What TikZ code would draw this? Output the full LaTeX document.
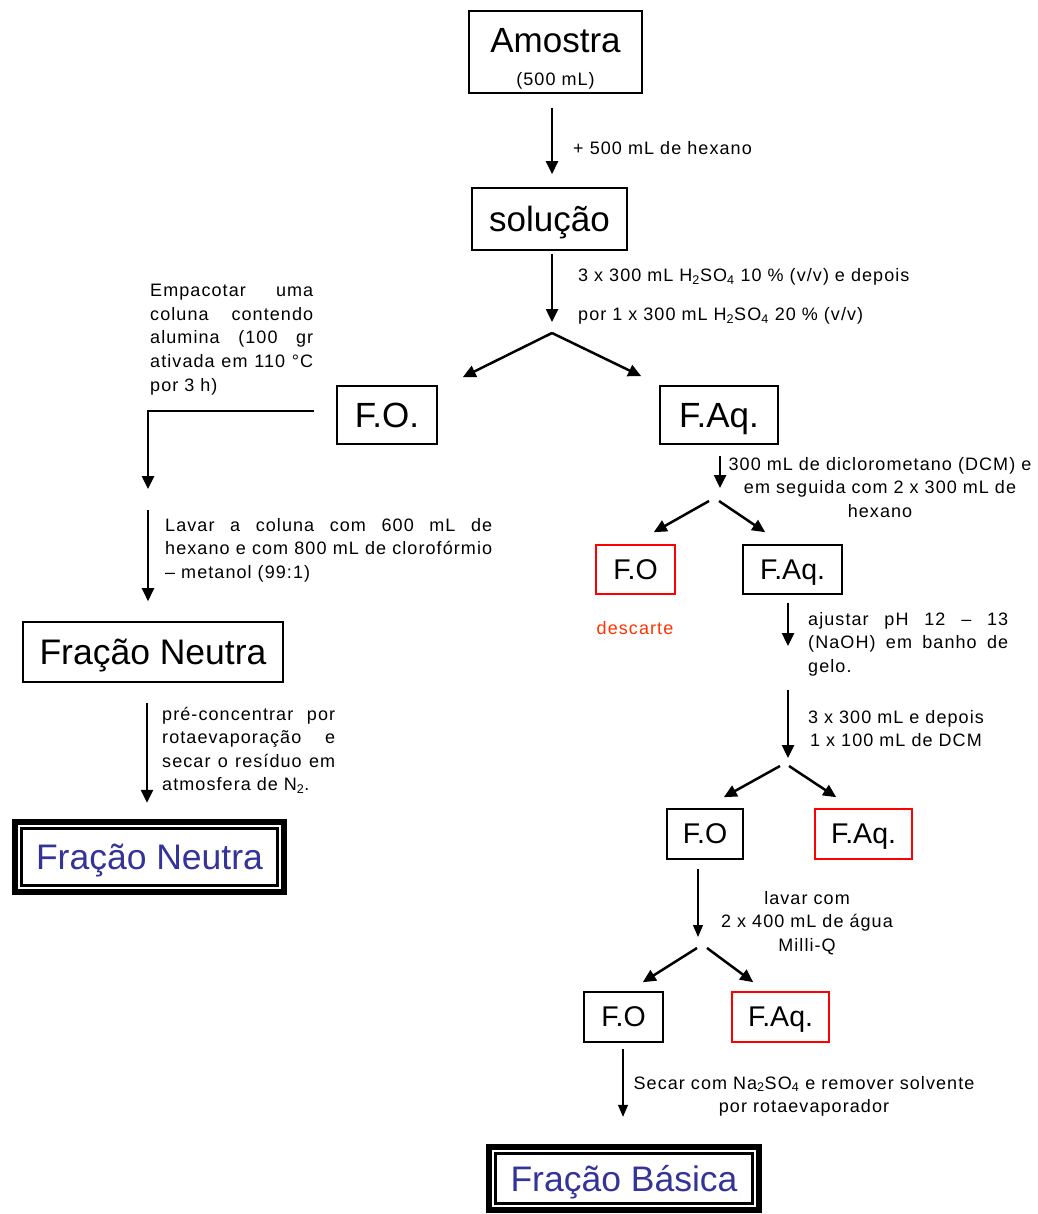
\documentclass[tikz,border=0pt]{standalone}
\usepackage{fontspec}
\setmainfont{Liberation Sans}
\newfontfamily\notefont{Liberation Sans}[LetterSpace=6]
\usetikzlibrary{arrows.meta}
\hyphenpenalty=10000
\exhyphenpenalty=10000
\newcommand{\jline}[2]{{\spaceskip=0.28em plus 1fil\makebox[#1][s]{#2}}}
\definecolor{fracblue}{RGB}{51,51,153}
\definecolor{discard}{RGB}{255,51,0}
\tikzset{
  box/.style={draw, line width=1.6pt, inner sep=0pt, text depth=0pt, font=\fontsize{35}{40}\selectfont},
  smallbox/.style={box, font=\fontsize{28.5}{32}\selectfont},
  redbox/.style={smallbox, draw=red},
  bigbox/.style={box, font=\fontsize{35.5}{40}\selectfont},
  note/.style={inner sep=0pt, font=\notefont\fontsize{18}{23.5}\selectfont},
  arr/.style={-{Triangle[length=13pt,width=12pt]}, line width=2.5pt},
  thinarr/.style={-{Triangle[length=12pt,width=10pt]}, line width=1.2pt},
  result/.style={inner sep=0pt, text depth=0pt, text=fracblue, font=\fontsize{35.5}{40}\selectfont}
}
\begin{document}
\begin{tikzpicture}[x=1pt,y=-1pt]
  \useasboundingbox (0,0) rectangle (1037,1214);
  % boxes
  \node[box, minimum width=173pt, minimum height=82pt, align=center] (amostra) at (555.5,52) {\raisebox{0pt}[35pt][0pt]{Amostra}\\[-7pt]{\notefont\fontsize{18}{20}\selectfont (500 mL)}};
  \node[box, minimum width=155pt, minimum height=62pt] (solucao) at (549.5,219) {solução};
  \node[box, minimum width=100pt, minimum height=58pt] (fo1) at (387,415) {F.O.};
  \node[box, minimum width=118pt, minimum height=58pt] (faq1) at (719,415) {F.Aq.};
  \node[redbox, minimum width=79pt, minimum height=49pt] (fo2) at (635.5,569.5) {F.O};
  \node[smallbox, minimum width=99pt, minimum height=49pt] (faq2) at (792.5,569.5) {F.Aq.};
  \node[bigbox, minimum width=260pt, minimum height=60pt] (neutra) at (153,652) {Fração Neutra};
  \node[result, minimum width=275pt, minimum height=76pt] (neutrafinal) at (149.5,857) {Fração Neutra};
  \node[smallbox, minimum width=76pt, minimum height=50pt] (fo3) at (705,834) {F.O};
  \node[redbox, minimum width=97pt, minimum height=50pt] (faq3) at (863.5,834) {F.Aq.};
  \node[smallbox, minimum width=79pt, minimum height=50pt] (fo4) at (623.5,1017) {F.O};
  \node[redbox, minimum width=97pt, minimum height=50pt] (faq4) at (780.5,1017) {F.Aq.};
  \node[result, minimum width=276pt, minimum height=69pt] (basica) at (624,1178.5) {Fração Básica};
  \foreach \n in {neutrafinal,basica}{
    \draw[line width=6pt] ([shift={(3pt,-3pt)}]\n.north west) rectangle ([shift={(-3pt,3pt)}]\n.south east);
    \draw[line width=3pt] ([shift={(9.5pt,-9.5pt)}]\n.north west) rectangle ([shift={(-9.5pt,9.5pt)}]\n.south east);
  }
  % split points
  \coordinate (split1) at (552,333);
  \coordinate (split2) at (714,501);
  \coordinate (split3) at (784.5,766);
  \coordinate (split4) at (702,948);
  \coordinate (colin) at (148,489);
  \coordinate (colout) at (148,510);
  \coordinate (phin) at (788,646);
  \coordinate (phout) at (788,690);
  % arrows
  \draw[arr] ([xshift=-3.5pt,yshift=-14pt]amostra.south) -- ([xshift=2.5pt,yshift=13pt]solucao.north);
  \draw[arr] ([xshift=2.5pt,yshift=-3pt]solucao.south) -- ([yshift=11pt]split1);
  \draw[arr] (split1) -- ([shift={(25pt,8pt)}]fo1.north east);
  \draw[arr] (split1) -- ([shift={(-18pt,9pt)}]faq1.north west);
  \draw[arr] ([xshift=-22pt,yshift=4pt]fo1.west) -| (colin);
  \draw[arr] (colout) -- ([xshift=-5pt,yshift=20pt]neutra.north);
  \draw[arr] ([xshift=-6pt,yshift=-20pt]neutra.south) -- ([xshift=-2.5pt,yshift=16pt]neutrafinal.north);
  \draw[arr] ([xshift=1pt,yshift=-11pt]faq1.south) -- ([xshift=6pt,yshift=13pt]split2);
  \draw[arr] ([xshift=-5pt]split2) -- ([shift={(-22pt,12pt)}]fo2.north east);
  \draw[arr] ([xshift=5pt]split2) -- ([shift={(23pt,12pt)}]faq2.north west);
  \draw[arr] ([xshift=-4.5pt,yshift=-8pt]faq2.south) -- (phin);
  \draw[arr] (phout) -- ([shift={(3.5pt,8pt)}]split3);
  \draw[arr] ([xshift=-4.5pt]split3) -- ([shift={(-20pt,11pt)}]fo3.north east);
  \draw[arr] ([xshift=4.5pt]split3) -- ([shift={(22pt,11pt)}]faq3.north west);
  \draw[thinarr] ([xshift=-7pt,yshift=-9pt]fo3.south) -- ([xshift=-4pt,yshift=11pt]split4);
  \draw[arr] ([xshift=-5pt]split4) -- ([shift={(-21pt,9pt)}]fo4.north east);
  \draw[arr] ([xshift=5pt]split4) -- ([shift={(22pt,9pt)}]faq4.north west);
  \draw[thinarr] ([xshift=-0.5pt,yshift=-6pt]fo4.south) -- ([xshift=-1pt,yshift=27pt]basica.north);
  % notes
  \node[note, anchor=base west] (hexano) at (573,155) {+ 500 mL de hexano};
  \node[note, anchor=base west, text width=345pt, align=left] (acido) at (578,282) {3 x 300 mL H\textsubscript{2}SO\textsubscript{4} 10 \% (v/v) e depois\\[15pt]por 1 x 300 mL H\textsubscript{2}SO\textsubscript{4} 20 \% (v/v)};
  \node[note, anchor=base west, text width=163pt, align=left] (coluna) at (150,297) {\jline{163pt}{Empacotar uma}\\\jline{163pt}{coluna contendo}\\\jline{163pt}{alumina (100 gr}\\\jline{163pt}{ativada em 110 °C}\\por 3 h)};
  \node[note, anchor=base west, text width=327pt, align=left] (lavar) at (165,531) {\jline{327pt}{Lavar a coluna com 600 mL de}\\\jline{327pt}{hexano e com 800 mL de clorofórmio}\\– metanol (99:1)};
  \node[note, anchor=base west, text width=173pt, align=left] (secagem) at (162,720) {\jline{173pt}{pré-concentrar por}\\\jline{173pt}{rotaevaporação e}\\\jline{173pt}{secar o resíduo em}\\atmosfera de N\textsubscript{2}.};
  \node[note, anchor=base, text width=320pt, align=center] (dcm) at (880,470) {300 mL de diclorometano (DCM) e\\em seguida com 2 x 300 mL de\\hexano};
  \node[note, anchor=base, text=discard] (descarte) at (635,634) {descarte};
  \node[note, anchor=base west, text width=200pt, align=left] (ph) at (808,625) {\jline{200pt}{ajustar pH 12 – 13}\\\jline{200pt}{(NaOH) em banho de}\\gelo.};
  \node[note, anchor=base, text width=200pt, align=center] (extracao) at (896,723) {3 x 300 mL e depois\\1 x 100 mL de DCM};
  \node[note, anchor=base, text width=200pt, align=center] (agua) at (807,904) {lavar com\\2 x 400 mL de água\\Milli-Q};
  \node[note, anchor=base, text width=360pt, align=center] (secar) at (804,1089) {Secar com Na\textsubscript{2}SO\textsubscript{4} e remover solvente\\por rotaevaporador};
\end{tikzpicture}
\end{document}
